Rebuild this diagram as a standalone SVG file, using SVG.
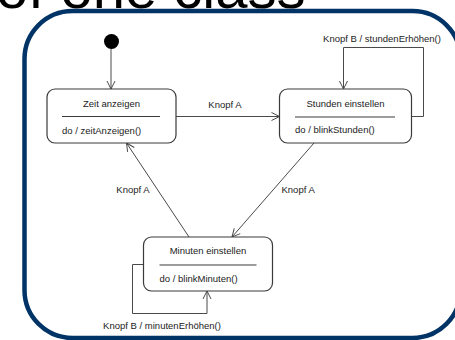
<svg xmlns="http://www.w3.org/2000/svg" width="455" height="340" viewBox="0 0 455 340">
  <style>
    .title { font-family: "Liberation Sans", Arial, sans-serif; font-size: 58px; fill: #000; }
    .frame { fill: none; stroke: #003366; stroke-width: 4.5; }
    .state { fill: #fff; stroke: #3a3a3a; stroke-width: 1.2; }
    .sep { stroke: #3a3a3a; stroke-width: 1.2; }
    .lbl { font-family: "Liberation Sans", Arial, sans-serif; font-size: 9.5px; fill: #222; }
    .mid { text-anchor: middle; }
    .edge { fill: none; stroke: #4a4a4a; stroke-width: 1; marker-end: url(#open); }
  </style>
  <defs>
    <marker id="open" markerUnits="userSpaceOnUse" markerWidth="10" markerHeight="10" viewBox="0 0 10 10" refX="9" refY="5" orient="auto">
      <path d="M1,1 L9,5 L1,9" fill="none" stroke="#4a4a4a" stroke-width="1"/>
    </marker>
  </defs>
  <rect width="455" height="340" fill="#fff"/>

  <!-- slide heading, clipped by the top edge -->
  <text class="title" x="-4" y="8">of one class</text>

  <!-- rounded frame -->
  <rect class="frame" x="24.5" y="11" width="436" height="327" rx="48" ry="48"/>

  <!-- connectors -->
  <g id="connectors">
    <path class="edge" d="M111,49 V89"/>
    <path class="edge" d="M176,116.5 H279.5"/>
    <path class="edge" d="M411.5,116.5 H423.5 V47.5 H343.5 V89"/>
    <path class="edge" d="M314,143 L232,237"/>
    <path class="edge" d="M189,237 L126.5,143"/>
    <path class="edge" d="M143.5,264.5 H132.5 V313.5 H207 V291"/>
    <text class="lbl mid" x="225" y="108">Knopf A</text>
    <text class="lbl mid" x="382" y="41.5">Knopf B / stundenErhöhen()</text>
    <text class="lbl" x="281.5" y="193">Knopf A</text>
    <text class="lbl mid" x="133" y="193">Knopf A</text>
    <text class="lbl mid" x="162" y="328.5">Knopf B / minutenErhöhen()</text>
  </g>

  <!-- initial pseudo-state -->
  <g id="initial">
    <circle cx="111.5" cy="41.5" r="7.5" fill="#000"/>
  </g>

  <g id="zeit-anzeigen">
    <rect class="state" x="47" y="89" width="129" height="54" rx="8" ry="8"/>
    <text class="lbl mid" x="111.5" y="106.5">Zeit anzeigen</text>
    <line class="sep" x1="62" y1="116.5" x2="160" y2="116.5"/>
    <text class="lbl" x="62" y="134">do / zeitAnzeigen()</text>
  </g>

  <g id="stunden-einstellen">
    <rect class="state" x="279.5" y="89" width="132" height="54" rx="8" ry="8"/>
    <text class="lbl mid" x="345.5" y="106.5">Stunden einstellen</text>
    <line class="sep" x1="295" y1="117" x2="395" y2="117"/>
    <text class="lbl" x="295" y="133">do / blinkStunden()</text>
  </g>

  <g id="minuten-einstellen">
    <rect class="state" x="143.5" y="237" width="129" height="54" rx="8" ry="8"/>
    <text class="lbl mid" x="208" y="253.5">Minuten einstellen</text>
    <line class="sep" x1="159.5" y1="265" x2="256.5" y2="265"/>
    <text class="lbl" x="159.5" y="282">do / blinkMinuten()</text>
  </g>
</svg>
